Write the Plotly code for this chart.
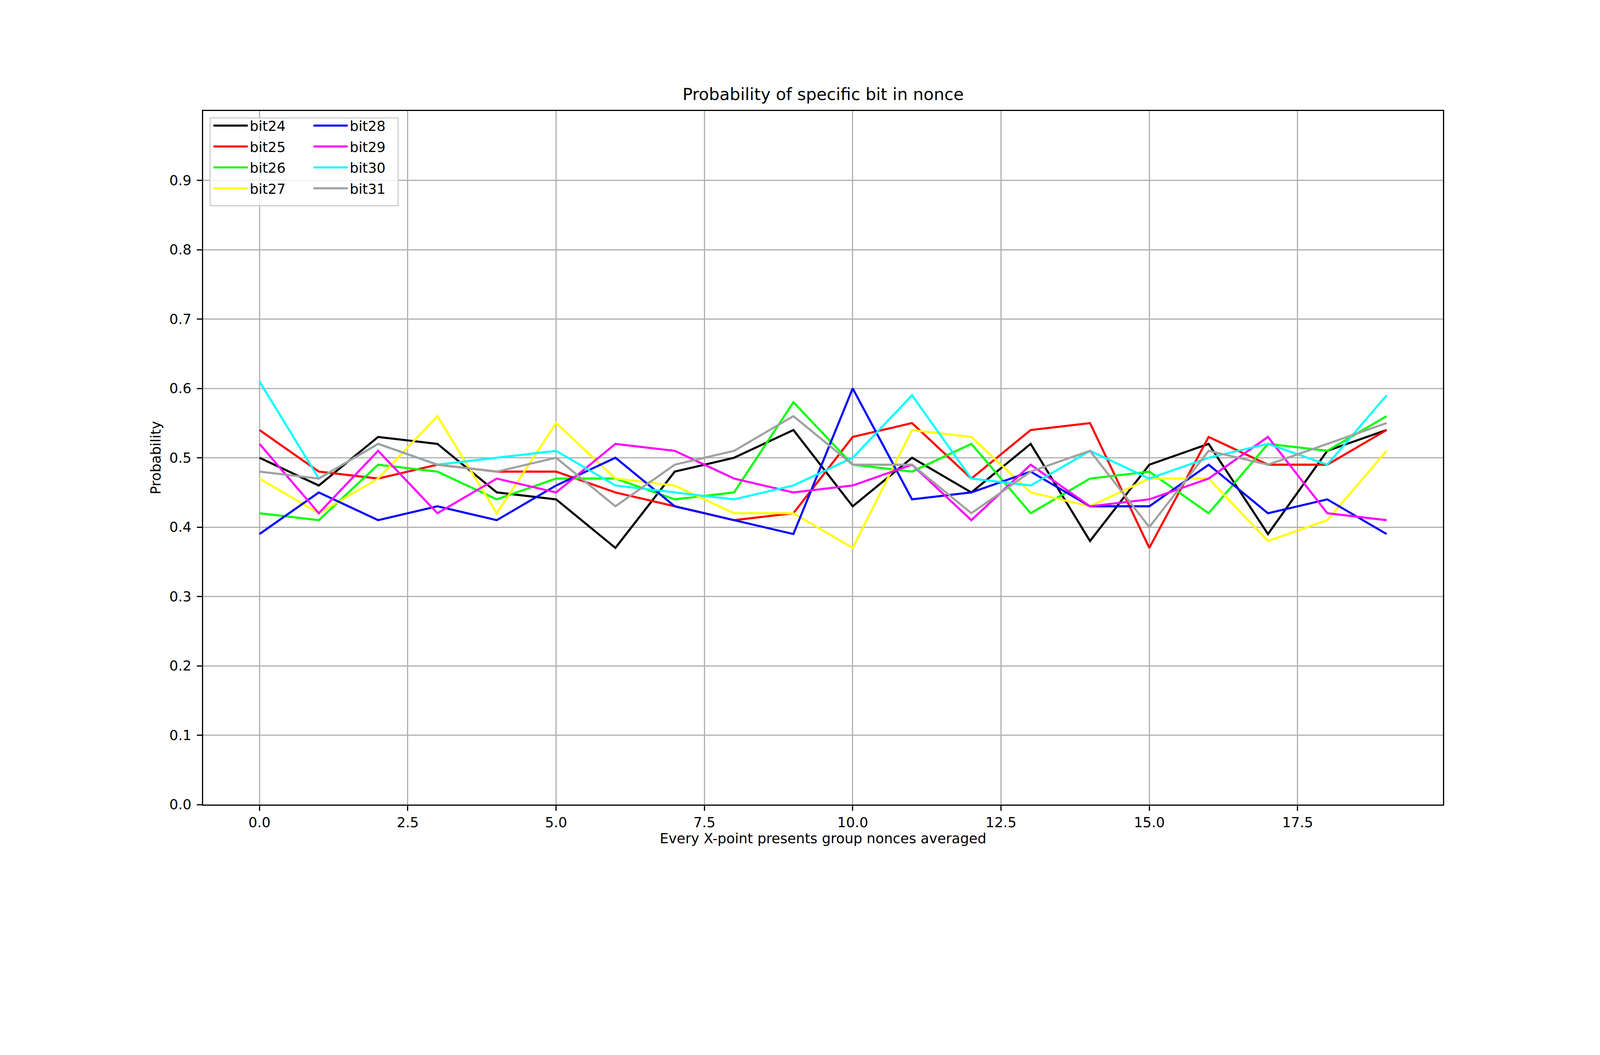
import plotly.graph_objects as go

x_vals = list(range(20))
bit24 = [0.50, 0.46, 0.53, 0.52, 0.45, 0.44, 0.37, 0.48, 0.50, 0.54, 0.43, 0.50, 0.45, 0.52, 0.38, 0.49, 0.52, 0.39, 0.51, 0.54]
bit25 = [0.54, 0.48, 0.47, 0.49, 0.48, 0.48, 0.45, 0.43, 0.41, 0.42, 0.53, 0.55, 0.47, 0.54, 0.55, 0.37, 0.53, 0.49, 0.49, 0.54]
bit26 = [0.42, 0.41, 0.49, 0.48, 0.44, 0.47, 0.47, 0.44, 0.45, 0.58, 0.49, 0.48, 0.52, 0.42, 0.47, 0.48, 0.42, 0.52, 0.51, 0.56]
bit27 = [0.47, 0.42, 0.47, 0.56, 0.42, 0.55, 0.47, 0.46, 0.42, 0.42, 0.37, 0.54, 0.53, 0.45, 0.43, 0.47, 0.47, 0.38, 0.41, 0.51]
bit28 = [0.39, 0.45, 0.41, 0.43, 0.41, 0.46, 0.50, 0.43, 0.41, 0.39, 0.60, 0.44, 0.45, 0.48, 0.43, 0.43, 0.49, 0.42, 0.44, 0.39]
bit29 = [0.52, 0.42, 0.51, 0.42, 0.47, 0.45, 0.52, 0.51, 0.47, 0.45, 0.46, 0.49, 0.41, 0.49, 0.43, 0.44, 0.47, 0.53, 0.42, 0.41]
bit30 = [0.61, 0.47, 0.52, 0.49, 0.50, 0.51, 0.46, 0.45, 0.44, 0.46, 0.50, 0.59, 0.47, 0.46, 0.51, 0.47, 0.50, 0.52, 0.49, 0.59]
bit31 = [0.48, 0.47, 0.52, 0.49, 0.48, 0.50, 0.43, 0.49, 0.51, 0.56, 0.49, 0.49, 0.42, 0.48, 0.51, 0.40, 0.51, 0.49, 0.52, 0.55]

series_names = ["bit24", "bit25", "bit26", "bit27", "bit28", "bit29", "bit30", "bit31"]
series_values = [bit24, bit25, bit26, bit27, bit28, bit29, bit30, bit31]
series_colors = ["#000000", "#ff0000", "#00ff00", "#ffff00", "#0000ff", "#ff00ff", "#00ffff", "#a0a0a0"]

x_ticks = [0, 2.5, 5, 7.5, 10, 12.5, 15, 17.5]
x_tick_labels = ["0.0", "2.5", "5.0", "7.5", "10.0", "12.5", "15.0", "17.5"]
y_ticks = [0.0, 0.1, 0.2, 0.3, 0.4, 0.5, 0.6, 0.7, 0.8, 0.9]
y_tick_labels = ["0.0", "0.1", "0.2", "0.3", "0.4", "0.5", "0.6", "0.7", "0.8", "0.9"]

FONT = "DejaVu Sans"
# the page viewport is 4096x2304 CSS px photographed at 4800x2700
K = 4096 / 4800
W, H = 4800, 2700
L, R, T, B = 600, 4320, 324, 2403


def s(v):
    return v * K


fig = go.Figure()
for i, (name, vals, col) in enumerate(zip(series_names, series_values, series_colors)):
    fig.add_trace(go.Scatter(
        x=x_vals, y=vals, mode="lines", name=name,
        line=dict(color=col, width=s(6.25)),
        legend="legend" if i < 4 else "legend2",
        legendgroup=name,
    ))

axis_common = dict(
    showline=True, linecolor="black", linewidth=s(3.3), mirror=True,
    ticks="outside", ticklen=s(15), tickwidth=s(3.3), tickcolor="black",
    showgrid=True, gridcolor="#b0b0b0", gridwidth=s(3.3), zeroline=False,
    tickfont=dict(family=FONT, size=s(41.7), color="black"),
)

legend_common = dict(
    font=dict(family=FONT, size=s(41.7), color="black"),
    bgcolor="rgba(255,255,255,0)", borderwidth=0,
    xanchor="left", yanchor="top", tracegroupgap=s(5),
    itemwidth=88, orientation="v",
)

leg_top = 1 - (333 - T) / (B - T)

fig.update_layout(
    width=round(s(W)), height=round(s(H)),
    margin=dict(l=s(L), r=s(W - R), t=s(T), b=s(H - B), pad=0),
    paper_bgcolor="white", plot_bgcolor="white",
    title=dict(text="Probability of specific bit in nonce", x=(L + R) / 2 / W, xanchor="center",
               yref="container", y=1 - 291 / H, yanchor="bottom",
               font=dict(family=FONT, size=s(50), color="black")),
    xaxis=dict(range=[-0.95, 19.95], tickvals=x_ticks, ticktext=x_tick_labels,
               title=dict(text="Every X-point presents group nonces averaged",
                          font=dict(family=FONT, size=s(41.7), color="black"), standoff=s(9)),
               **axis_common),
    yaxis=dict(range=[0, 1.0], tickvals=y_ticks, ticktext=y_tick_labels, ticklabelstandoff=int(round(s(8))),
               title=dict(text="Probability", font=dict(family=FONT, size=s(41.7), color="black"), standoff=s(14)),
               **axis_common),
    legend=dict(x=(625 - L) / (R - L), y=leg_top, **legend_common),
    legend2=dict(x=(925 - L) / (R - L), y=leg_top, **legend_common),
    shapes=[dict(type="rect", xref="paper", yref="paper",
                 x0=(621 - L) / (R - L), x1=(1185 - L) / (R - L),
                 y0=1 - (608 - T) / (B - T), y1=1 - (345 - T) / (B - T),
                 line=dict(color="#cccccc", width=s(3.3)), fillcolor="rgba(255,255,255,0.8)",
                 layer="above")],
)

fig.write_html("out.html")
